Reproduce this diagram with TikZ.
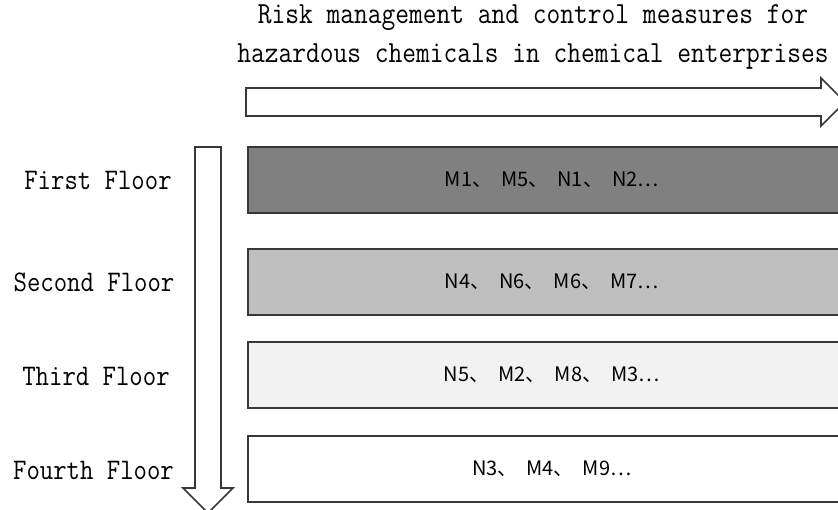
\documentclass[tikz,border=0pt]{standalone}
\usepackage{fontspec}
\newfontfamily\cjkfont{Noto Sans CJK SC}
\usepackage{tikz}
\usetikzlibrary{positioning}
\definecolor{floorA}{gray}{0.5}
\definecolor{floorB}{gray}{0.75}
\definecolor{floorC}{gray}{0.95}
\definecolor{edgegray}{gray}{0.22}
\newcommand{\jsep}{、\hspace{9pt}}
\tikzstyle{floorbox}=[draw=edgegray, line width=1.6pt, minimum width=608pt, minimum height=66pt, inner sep=0pt, anchor=west, font=\fontsize{20}{24}\selectfont\cjkfont]
\tikzstyle{floortag}=[font=\fontsize{26}{30}\selectfont\ttfamily, yscale=1.15]
\tikzstyle{heading}=[font=\fontsize{26.7}{33.5}\selectfont\ttfamily, yscale=1.15, align=center]
\tikzstyle{blockarrow}=[draw=edgegray, line width=1.6pt, fill=white, line join=miter]

\begin{document}
\begin{tikzpicture}[x=1pt, y=-1pt]
        % 図の範囲
        \useasboundingbox (0,0) rectangle (838,509);
        \clip (0,0) rectangle (838,509);

        % 見出し
        \node[heading] (title) at (533,37) {Risk management and control measures for\\hazardous chemicals in chemical enterprises};

        % 横向きの矢印
        \draw[blockarrow] (246,88) -- (821,88) -- (821,78) -- (845,102)
          -- (821,126) -- (821,116) -- (246,116) -- cycle;

        % 縦向きの矢印
        \draw[blockarrow] (195,147) -- (221,147) -- (221,488) -- (233,488)
          -- (208,513) -- (183,488) -- (195,488) -- cycle;

        % 各階の箱
        \node[floorbox, fill=floorA] (F1) at (247,180) {M1\jsep M5\jsep N1\jsep N2…};
        \node[floorbox, fill=floorB] (F2) at (247,282) {N4\jsep N6\jsep M6\jsep M7…};
        \node[floorbox, fill=floorC] (F3) at (247,375) {N5\jsep M2\jsep M8\jsep M3…};
        \node[floorbox, fill=white] (F4) at (247,469) {N3\jsep M4\jsep M9…};

        % 各階の名前
        \node[floortag] (T1) at (98,180) {First Floor};
        \node[floortag] (T2) at (94,282) {Second Floor};
        \node[floortag] (T3) at (96,376) {Third Floor};
        \node[floortag] (T4) at (93.5,470) {Fourth Floor};
\end{tikzpicture}
\end{document}
